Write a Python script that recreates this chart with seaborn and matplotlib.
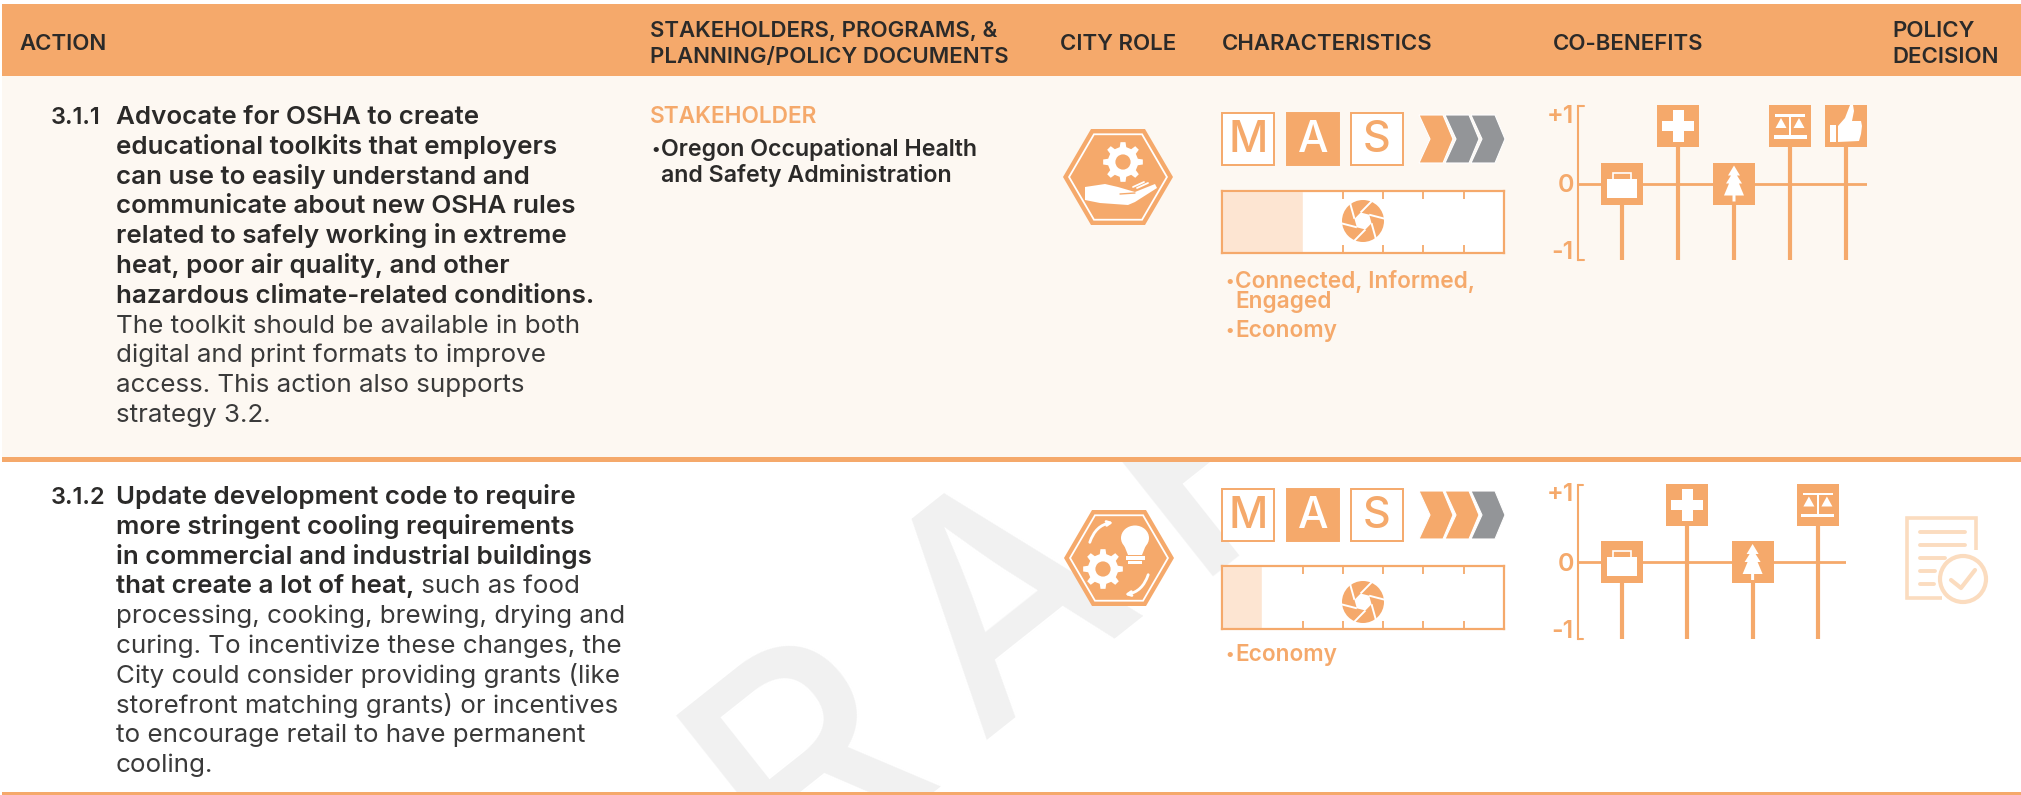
import numpy as np
import pandas as pd
import seaborn as sns
import matplotlib
matplotlib.use("Agg")
import matplotlib.pyplot as plt
from matplotlib.patches import Rectangle, Polygon, Circle, Ellipse, FancyArrowPatch

sns.set_theme(style="white")
plt.rcParams['font.family'] = ['Inter', 'DejaVu Sans']

ORANGE = "#F5A96B"
PALE = "#FDE5D2"
CREAM = "#FDF8F2"
FAINT = "#FBDCBF"
GREY = "#939598"
DARK = "#2B2A29"

# table text
headers = ["ACTION", "STAKEHOLDERS, PROGRAMS, &\nPLANNING/POLICY DOCUMENTS", "CITY ROLE",
           "CHARACTERISTICS", "CO-BENEFITS", "POLICY\nDECISION"]
action_ids = ["3.1.1", "3.1.2"]
bold_1 = ["Advocate for OSHA to create",
          "educational toolkits that employers",
          "can use to easily understand and",
          "communicate about new OSHA rules",
          "related to safely working in extreme",
          "heat, poor air quality, and other",
          "hazardous climate-related conditions."]
regular_1 = ["The toolkit should be available in both",
             "digital and print formats to improve",
             "access. This action also supports",
             "strategy 3.2."]
bold_2 = ["Update development code to require",
          "more stringent cooling requirements",
          "in commercial and industrial buildings",
          "that create a lot of heat,"]
regular_2 = [" such as food",
             "processing, cooking, brewing, drying and",
             "curing. To incentivize these changes, the",
             "City could consider providing grants (like",
             "storefront matching grants) or incentives",
             "to encourage retail to have permanent",
             "cooling."]

# characteristics
chevrons_on = [1, 2]
chevrons_total = 3
rating_scale = 7
rating = [2, 1]
focus_1 = ["Connected, Informed,\nEngaged", "Economy"]
focus_2 = ["Economy"]

# co-benefit scores
benefits_1 = ["jobs", "health", "nature", "equity", "support"]
scores_1 = [0, 1, 0, 1, 1]
benefits_2 = ["jobs", "health", "nature", "equity"]
scores_2 = [0, 1, 0, 1]

W, H = 2021, 795
BODY = 18.7
fig = plt.figure(figsize=(W / 100, H / 100), dpi=100, facecolor="white")
# page axes in pixels
pg = fig.add_axes([0, 0, 1, 1])
pg.set_xlim(0, W)
pg.set_ylim(H, 0)
pg.axis("off")


def axes_at(x0, y0, x1, y1):
    return fig.add_axes([x0 / W, 1 - y1 / H, (x1 - x0) / W, (y1 - y0) / H])


def txt(x, y, s, size=BODY, weight=600, color=DARK, **kw):
    kw.setdefault("va", "baseline")
    return pg.text(x, y, s, fontsize=size, fontweight=weight, color=color, **kw)


def gear_points(cx, cy, r, teeth=8):
    pts = []
    for i in range(teeth):
        a = 2 * np.pi * i / teeth
        st = np.pi / teeth
        for da, rr in [(-0.55 * st, r * 0.76), (-0.32 * st, r), (0.32 * st, r), (0.55 * st, r * 0.76)]:
            pts.append((cx + rr * np.cos(a + da), cy + rr * np.sin(a + da)))
    return pts


def hexagon(ax_, cx, cy):
    out = [(-55, 0), (-27, -48), (27, -48), (55, 0), (27, 48), (-27, 48)]
    ax_.add_patch(Polygon([(cx + a, cy + b) for a, b in out], fc=ORANGE, ec="none", zorder=3))
    inner = [(a * 0.89, b * 0.89) for a, b in out]
    ax_.add_patch(Polygon([(cx + a, cy + b) for a, b in inner], fc="none", ec="white", lw=1.3, zorder=4))


def gear(ax_, cx, cy, r):
    ax_.add_patch(Polygon(gear_points(cx, cy, r), fc="white", ec="none", zorder=5))
    ax_.add_patch(Circle((cx, cy), r * 0.38, fc=ORANGE, ec="none", zorder=6))


def mas_boxes(y):
    for lab, x, filled in zip("MAS", [1222, 1287, 1351], [False, True, False]):
        pg.add_patch(Rectangle((x, y), 52, 52, fc=ORANGE if filled else "white", ec=ORANGE, lw=1.4, zorder=3))
        txt(x + 26, y + 27, lab, size=31, weight=500, color="white" if filled else ORANGE,
            ha="center", va="center", zorder=4)


def chevron_row(y, n_on):
    for i in range(chevrons_total):
        x = 1419 + 26 * i
        pts = [(x, y), (x + 24, y), (x + 34, y + 24), (x + 24, y + 48), (x, y + 48), (x + 11, y + 24)]
        pg.add_patch(Polygon(pts, fc=ORANGE if i < n_on else GREY, ec="white", lw=0.8,
                             zorder=3 + chevrons_total - i))


def aperture(cx, cy, r=21):
    rating_overlay.add_patch(Circle((cx, cy), r, fc=ORANGE, ec="none", zorder=7))
    hole = [(cx + 0.42 * r * np.cos(a), cy + 0.42 * r * np.sin(a)) for a in np.arange(6) * np.pi / 3 + 0.25]
    rating_overlay.add_patch(Polygon(hole, fc="white", ec="none", zorder=8))
    for k in range(6):
        a = k * np.pi / 3 + 0.25
        p0 = hole[k]
        p1 = (p0[0] + 1.1 * r * np.cos(a + 1.05), p0[1] + 1.1 * r * np.sin(a + 1.05))
        rating_overlay.plot([p0[0], p1[0]], [p0[1], p1[1]], color="white", lw=1.4, zorder=8,
                            solid_capstyle="butt", scalex=False, scaley=False)


def rating_bar(y0, y1, value):
    ax = axes_at(1222, y0, 1504, y1)
    ax.set_zorder(3)
    sns.barplot(x=[value], y=[""], orient="h", color=PALE, width=1, saturation=1, ax=ax)
    ax.set_facecolor("white")
    ax.set_xlim(0, rating_scale)
    ax.set_ylim(0.5, -0.5)
    ax.set_xticks(range(1, rating_scale))
    ax.set_yticks([])
    ax.set_xlabel("")
    ax.set_ylabel("")
    ax.tick_params(axis="x", direction="in", top=True, bottom=True, length=6, width=1.3, color=ORANGE,
                   labelbottom=False, pad=0)
    for sp in ax.spines.values():
        sp.set_visible(True)
        sp.set_color(ORANGE)
        sp.set_linewidth(1.6)


def icon(ax, name, cx, cy):
    t = pg.transData
    kw = dict(fc="white", ec="none", transform=t, clip_on=False, zorder=6)
    if name == "jobs":
        ax.add_patch(Rectangle((cx - 15, cy - 5), 30, 19, **kw))
        ax.add_patch(Rectangle((cx - 9, cy - 11), 18, 7, fc="none", ec="white", lw=1.2, transform=t, clip_on=False, zorder=6))
    elif name == "health":
        ax.add_patch(Rectangle((cx - 16, cy - 5), 32, 10, **kw))
        ax.add_patch(Rectangle((cx - 5.5, cy - 16), 11, 32, **kw))
    elif name == "nature":
        pts = [(0, -18), (6, -8), (3, -8), (8, 0), (5, 0), (10, 12), (1.5, 12), (1.5, 18),
               (-1.5, 18), (-1.5, 12), (-10, 12), (-5, 0), (-8, 0), (-3, -8), (-6, -8)]
        ax.add_patch(Polygon([(cx + a, cy + b) for a, b in pts], **kw))
    elif name == "equity":
        ax.add_patch(Rectangle((cx - 15, cy - 12), 30, 2.5, **kw))
        ax.add_patch(Rectangle((cx - 16.5, cy + 9), 33, 3.5, **kw))
        ax.add_patch(Rectangle((cx - 1, cy - 12), 2, 22, **kw))
        for dx in (-9, 9):
            ax.add_patch(Polygon([(cx + dx, cy - 8), (cx + dx + 5.5, cy + 2), (cx + dx - 5.5, cy + 2)], **kw))
    elif name == "support":
        ax.add_patch(Rectangle((cx - 16, cy - 1), 6, 17, **kw))
        pts = [(-8, 0), (-1, -8), (4, -21), (7, -21), (8, -15), (6, -5), (15, -5), (16, 0), (15, 8),
               (13, 15), (-8, 16)]
        ax.add_patch(Polygon([(cx + a, cy + b) for a, b in pts], **kw))


def benefit_chart(y_top, y_bot, y_zero, x_first, step, x_end, names, scores):
    unit = 57.5
    ax = axes_at(1578, y_top, x_end, y_bot)
    ax.set_zorder(4)
    ax.patch.set_visible(False)
    ax.set_xlim((1578 - x_first) / step, (x_end - x_first) / step)
    ax.set_ylim((y_zero - y_bot) / unit, (y_zero - y_top) / unit)
    idx = np.arange(len(scores))
    ax.axhline(0, color=ORANGE, lw=2, zorder=1)
    ax.vlines(idx, ax.get_ylim()[0], scores, color=ORANGE, lw=3, zorder=2)
    df = pd.DataFrame({"i": idx, "score": scores})
    sns.scatterplot(data=df, x="i", y="score", marker="s", s=914, color=ORANGE, linewidth=0,
                    clip_on=False, ax=ax, zorder=3, legend=False)
    sns.despine(ax=ax, left=False, bottom=True)
    ax.spines["left"].set_color(ORANGE)
    ax.spines["left"].set_linewidth(1.5)
    for yy in (0, 1):
        ax.plot([0, 0.02], [yy, yy], color=ORANGE, lw=1.5, transform=ax.transAxes, clip_on=False)
    ax.set_xticks([])
    ax.set_yticks([-1.16, 0, 1.21])
    ax.set_yticklabels(["-1", "0", "+1"], fontsize=18, fontweight=600, color=ORANGE)
    ax.tick_params(axis="y", length=0, pad=3)
    ax.set_xlabel("")
    ax.set_ylabel("")
    for name, i, sc in zip(names, idx, scores):
        icon(ax, name, x_first + i * step, y_zero - sc * unit)


# background bands
pg.add_patch(Rectangle((2, 4), W, 72, fc=ORANGE, ec="none", zorder=1))
pg.add_patch(Rectangle((2, 76), W, 381, fc=CREAM, ec="none", zorder=1))
pg.add_patch(Rectangle((2, 457), W, 5, fc=ORANGE, ec="none", zorder=2))
pg.add_patch(Rectangle((2, 792), W, 3, fc=ORANGE, ec="none", zorder=2))

# watermark letters, only the lower row shows them
clip = Rectangle((2, 462), W, 330, transform=pg.transData, fc="none", ec="none")
pg.add_patch(clip)
for ch, x, y in zip("DRAFT", [670, 865, 1064, 1258, 1406], [985, 827, 673, 520, 402]):
    wm = pg.text(x, y, ch, fontsize=218, fontweight=500, color="#F1F1F1", rotation=38.4,
                 rotation_mode="anchor", ha="center", va="baseline", zorder=0.5, clip_on=True)
    wm.set_clip_path(clip)

# header
for s, x in zip(headers, [19, 650, 1060, 1222, 1553, 1892]):
    txt(x, 44, s, size=16, weight=600, va="center", linespacing=1.4, zorder=3)

# action text
LH = 29.8
for i, s in enumerate(bold_1):
    txt(116, 124 + i * LH, s, zorder=3)
for i, s in enumerate(regular_1):
    txt(116, 124 + (i + len(bold_1)) * LH, s, weight=400, color="#3A3A3A", zorder=3)
txt(51, 124, action_ids[0], size=17, zorder=3)

txt(51, 504, action_ids[1], size=17, zorder=3)
for i, s in enumerate(bold_2):
    last = txt(116, 504 + i * LH, s, zorder=3)
rend = fig.canvas.get_renderer()
x_end_bold = pg.transData.inverted().transform(last.get_window_extent(rend))[1, 0]
txt(x_end_bold, 504 + (len(bold_2) - 1) * LH, regular_2[0], weight=400, color="#3A3A3A", zorder=3)
for i, s in enumerate(regular_2[1:]):
    txt(116, 504 + (i + len(bold_2)) * LH, s, weight=400, color="#3A3A3A", zorder=3)

# stakeholders
txt(650, 123, "STAKEHOLDER", size=16.3, color=ORANGE, zorder=3)
txt(651, 154, "•", size=12, zorder=3)
txt(661, 156, "Oregon Occupational Health", size=16.7, zorder=3)
txt(661, 182, "and Safety Administration", size=16.7, zorder=3)

# city role icons
hexagon(pg, 1118, 177)
gear(pg, 1123, 162, 20)
hand = [(1085, 187), (1105, 184), (1118, 187), (1135, 192), (1155, 184), (1157, 188), (1135, 202),
        (1128, 205), (1100, 203), (1085, 200)]
pg.add_patch(Polygon(hand, fc="white", ec="none", zorder=5))
pg.plot([1120, 1135], [194, 193], color=ORANGE, lw=1, zorder=6)
pg.plot([1133, 1144], [187, 182], color="white", lw=1.3, zorder=6)
pg.plot([1137, 1148], [188, 183], color="white", lw=1.3, zorder=6)

hexagon(pg, 1119, 558)
gear(pg, 1103, 569, 20)
pg.add_patch(Ellipse((1135, 538), 28, 25, fc="white", ec="none", zorder=5))
pg.add_patch(Polygon([(1124, 545), (1146, 545), (1142, 555), (1128, 555)], fc="white", ec="none", zorder=5))
pg.add_patch(Rectangle((1126, 556), 19, 4, fc="white", ec="none", zorder=5))
pg.add_patch(Rectangle((1128, 561), 14, 3, fc="white", ec="none", zorder=5))
for (a, b, rad) in [((1089, 545), (1116, 522), -0.35), ((1149, 572), (1122, 595), -0.35)]:
    pg.add_patch(FancyArrowPatch(a, b, connectionstyle=f"arc3,rad={rad}", arrowstyle="->", mutation_scale=7,
                                 color="white", lw=2, zorder=5))

# characteristics
mas_boxes(113)
chevron_row(115, chevrons_on[0])
mas_boxes(489)
chevron_row(491, chevrons_on[1])
rating_bar(191, 253, rating[0])
rating_bar(566, 629, rating[1])

# overlay so aperture sits on the rating axes
rating_overlay = fig.add_axes([0, 0, 1, 1], sharex=pg, sharey=pg)
rating_overlay.patch.set_visible(False)
rating_overlay.axis("off")
rating_overlay.set_zorder(3.5)
aperture(1363, 221)
aperture(1363, 602)

y_lines = [288, 337]
for s, y in zip(focus_1, y_lines):
    txt(1225, y - 2, "•", size=12, color=ORANGE, zorder=3)
    txt(1235, y, s.split("\n")[0], size=16.3, color=ORANGE, zorder=3)
    if "\n" in s:
        txt(1235, y + 20, s.split("\n")[1], size=16.3, color=ORANGE, zorder=3)
for s in focus_2:
    txt(1225, 659, "•", size=12, color=ORANGE, zorder=3)
    txt(1235, 661, s, size=16.3, color=ORANGE, zorder=3)

# co-benefits
benefit_chart(106, 260, 183.5, 1622, 56, 1867, benefits_1, scores_1)
benefit_chart(485, 639, 562, 1622, 65.3, 1846, benefits_2, scores_2)

# policy decision document icon
doc = [(1976, 550), (1976, 518), (1907, 518), (1907, 598), (1942, 598)]
pg.add_patch(Polygon(doc, closed=False, fc="none", ec=FAINT, lw=2.6, zorder=3))
for y, x1 in [(532, 1965), (545, 1965), (558, 1945), (571, 1935), (584, 1934)]:
    pg.plot([1920, x1], [y, y], color=FAINT, lw=2.8, solid_capstyle="round", zorder=3)
pg.add_patch(Circle((1963, 579), 23, fc="white", ec=FAINT, lw=3, zorder=4))
pg.plot([1951, 1961, 1975], [580, 588, 570], color=FAINT, lw=3, zorder=5)

fig.savefig("out.png", dpi=100, facecolor="white")
